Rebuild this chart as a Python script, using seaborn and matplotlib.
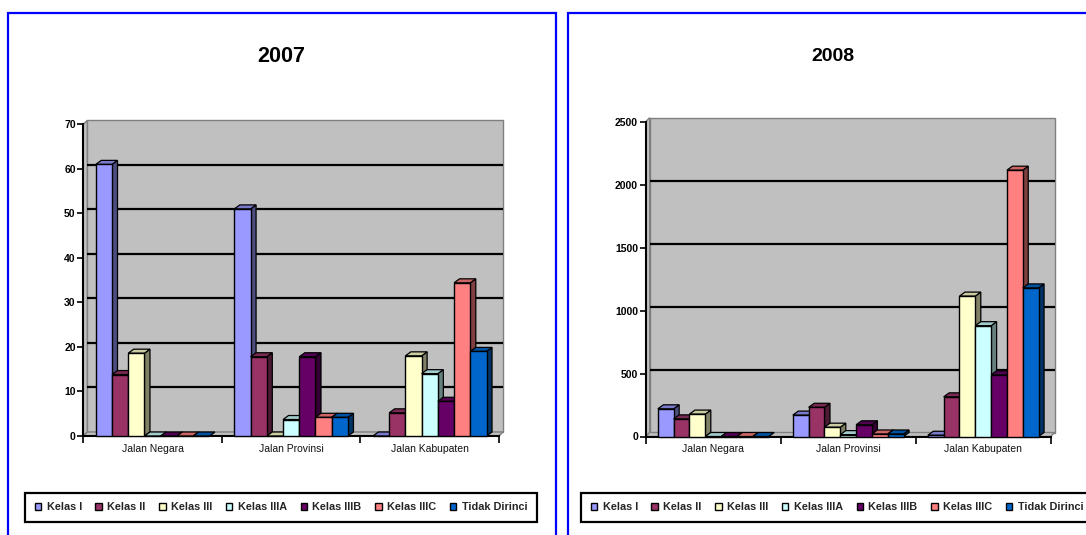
import matplotlib
matplotlib.use("Agg")
import matplotlib.pyplot as plt
from matplotlib.patches import Polygon, Rectangle
from matplotlib.colors import to_rgb
import pandas as pd
import seaborn as sns

# Road status (categories) and road class (series)
roads = ["Jalan Negara", "Jalan Provinsi", "Jalan Kabupaten"]
classes = ["Kelas I", "Kelas II", "Kelas III", "Kelas IIIA", "Kelas IIIB", "Kelas IIIC", "Tidak Dirinci"]
colors = ["#9999FF", "#993366", "#FFFFCC", "#CCFFFF", "#660066", "#FF8080", "#0066CC"]

# 2007 values per class: [Negara, Provinsi, Kabupaten]
kelas_i_2007 = [61.0, 51.0, 0.0]
kelas_ii_2007 = [13.8, 17.8, 5.2]
kelas_iii_2007 = [18.6, 0.0, 18.0]
kelas_iiia_2007 = [0.0, 3.7, 14.0]
kelas_iiib_2007 = [0.0, 17.8, 7.8]
kelas_iiic_2007 = [0.0, 4.2, 34.4]
tidak_dirinci_2007 = [0.0, 4.2, 19.0]

# 2008 values per class: [Negara, Provinsi, Kabupaten]
kelas_i_2008 = [220, 170, 10]
kelas_ii_2008 = [140, 232, 315]
kelas_iii_2008 = [178, 74, 1115]
kelas_iiia_2008 = [0, 15, 880]
kelas_iiib_2008 = [0, 93, 490]
kelas_iiic_2008 = [0, 20, 2115]
tidak_dirinci_2008 = [0, 20, 1180]

yticks_2007 = [0, 10, 20, 30, 40, 50, 60, 70]
yticks_2008 = [0, 500, 1000, 1500, 2000, 2500]

series_2007 = [kelas_i_2007, kelas_ii_2007, kelas_iii_2007, kelas_iiia_2007,
               kelas_iiib_2007, kelas_iiic_2007, tidak_dirinci_2007]
series_2008 = [kelas_i_2008, kelas_ii_2008, kelas_iii_2008, kelas_iiia_2008,
               kelas_iiib_2008, kelas_iiic_2008, tidak_dirinci_2008]

sns.set_theme(style="white")
plt.rcParams["font.family"] = ["Liberation Sans", "DejaVu Sans"]

W, H = 1086, 535
DPI = 100
fig = plt.figure(figsize=(W / DPI, H / DPI), dpi=DPI)

WALL = "#C0C0C0"
WALL_EDGE = "#808080"
BAR_DX, BAR_DY = 5.5, 4.0   # bar depth in pixels
WALL_DX, WALL_DY = 4.0, 4.0  # back wall offset in pixels


def shade(c, f):
    r, g, b = to_rgb(c)
    return (r * f, g * f, b * f)


def long_table(series):
    rows = []
    for cls, vals in zip(classes, series):
        for road, v in zip(roads, vals):
            rows.append({"road": road, "kelas": cls, "km": v})
    return pd.DataFrame(rows)


def panel(rect_px, series, yticks):
    left, top, right, bottom = rect_px
    ax = fig.add_axes([left / W, 1 - bottom / H, (right - left) / W, (bottom - top) / H])
    ax.set_facecolor("none")
    df = long_table(series)
    sns.barplot(data=df, x="road", y="km", hue="kelas", order=roads, hue_order=classes,
                palette=colors, saturation=1, width=0.82, errorbar=None,
                edgecolor="black", linewidth=1.0, legend=False, ax=ax)
    ymax = yticks[-1]
    ax.set_xlim(-0.5, 2.5)
    ax.set_ylim(0, ymax)
    ax.set_xlabel("")
    ax.set_ylabel("")

    ax_w = right - left
    ax_h = bottom - top
    dxa, dya = WALL_DX / ax_w, WALL_DY / ax_h

    # back wall, side wall and floor
    wall_kw = dict(transform=ax.transAxes, facecolor=WALL, edgecolor=WALL_EDGE,
                   linewidth=1.0, clip_on=False, zorder=0.5)
    ax.add_patch(Polygon([(dxa, dya), (1 + dxa, dya), (1 + dxa, 1 + dya), (dxa, 1 + dya)], **wall_kw))
    ax.add_patch(Polygon([(0, 0), (dxa, dya), (dxa, 1 + dya), (0, 1)], **wall_kw))
    ax.add_patch(Polygon([(0, 0), (1, 0), (1 + dxa, dya), (dxa, dya)], **wall_kw))

    # horizontal gridlines on the back wall
    for v in yticks[1:-1]:
        yf = v / ymax + dya
        ax.plot([dxa, 1 + dxa], [yf, yf], transform=ax.transAxes, color="black",
                lw=1.6, zorder=1, clip_on=False, solid_capstyle="butt")

    # depth faces for each bar
    ddx = BAR_DX * 3.0 / ax_w
    ddy = BAR_DY * ymax / ax_h
    n = len(classes)
    for j, cont in enumerate(ax.containers):
        col = colors[j]
        for i, bar in enumerate(cont):
            x, w, h = bar.get_x(), bar.get_width(), bar.get_height()
            z = 3 + (i * n + j) * 0.01
            face_kw = dict(edgecolor="black", linewidth=0.9, zorder=z, clip_on=False,
                           joinstyle="miter")
            ax.add_patch(Polygon([(x + w, 0), (x + w + ddx, ddy), (x + w + ddx, h + ddy), (x + w, h)],
                                 facecolor=shade(col, 0.5), **face_kw))
            ax.add_patch(Polygon([(x, h), (x + w, h), (x + w + ddx, h + ddy), (x + ddx, h + ddy)],
                                 facecolor=shade(col, 0.8), **face_kw))
            bar.set_zorder(z + 0.005)
            bar.set_clip_on(False)

    for s in ["top", "right"]:
        ax.spines[s].set_visible(False)
    for s in ["left", "bottom"]:
        ax.spines[s].set_color("black")
        ax.spines[s].set_linewidth(1.5)
        ax.spines[s].set_zorder(2.5)

    ax.set_yticks(yticks, labels=[str(t) for t in yticks], fontweight="bold")
    ax.tick_params(axis="y", direction="out", length=4, width=1.2, labelsize=7.5,
                   pad=1.5, colors="black", left=True)
    ax.set_xticks([0, 1, 2], labels=roads)
    ax.set_xticks([-0.5, 0.5, 1.5, 2.5], minor=True)
    ax.tick_params(axis="x", which="major", length=0, pad=5.5, labelsize=7.5, colors="#111111")
    ax.tick_params(axis="x", which="minor", direction="out", length=5, width=1.2,
                   color="black", bottom=True)
    return ax


def legend(ax, x0_px):
    handles = [Rectangle((0, 0), 1, 1, facecolor=c, edgecolor="black", linewidth=1.0)
               for c in colors]
    leg = ax.legend(handles, classes, loc="lower left",
                    bbox_to_anchor=(x0_px / W, 1 - 522 / H, 512 / W, 29 / H),
                    bbox_transform=fig.transFigure, ncol=7, mode="expand",
                    prop={"weight": "bold", "size": 7.8}, handlelength=0.6,
                    handleheight=0.6, handletextpad=0.5, borderpad=0.9,
                    borderaxespad=0, frameon=True, fancybox=False, shadow=False)
    fr = leg.get_frame()
    fr.set_edgecolor("black")
    fr.set_linewidth(1.6)
    fr.set_facecolor("white")
    fr.set_alpha(1)


ax1 = panel((83.3, 124.3, 499.0, 436.0), series_2007, yticks_2007)
ax2 = panel((645.7, 121.7, 1050.7, 436.5), series_2008, yticks_2008)
legend(ax1, 25)
legend(ax2, 581)

# titles
fig.text(281.5 / W, 1 - 62 / H, "2007", ha="center", va="baseline",
         fontsize=15.5, fontweight="bold", color="black")
fig.text(833 / W, 1 - 61 / H, "2008", ha="center", va="baseline",
         fontsize=14, fontweight="bold", color="black")

# panel frames
fig.add_artist(Rectangle((8 / W, -0.2), 548 / W, 1.2 - 13 / H, transform=fig.transFigure,
                         fill=False, edgecolor="#0000FF", linewidth=1.6))
fig.add_artist(Rectangle((568 / W, -0.2), 0.6, 1.2 - 13 / H, transform=fig.transFigure,
                         fill=False, edgecolor="#0000FF", linewidth=1.6))

fig.savefig("out.png", dpi=DPI, facecolor="white")
